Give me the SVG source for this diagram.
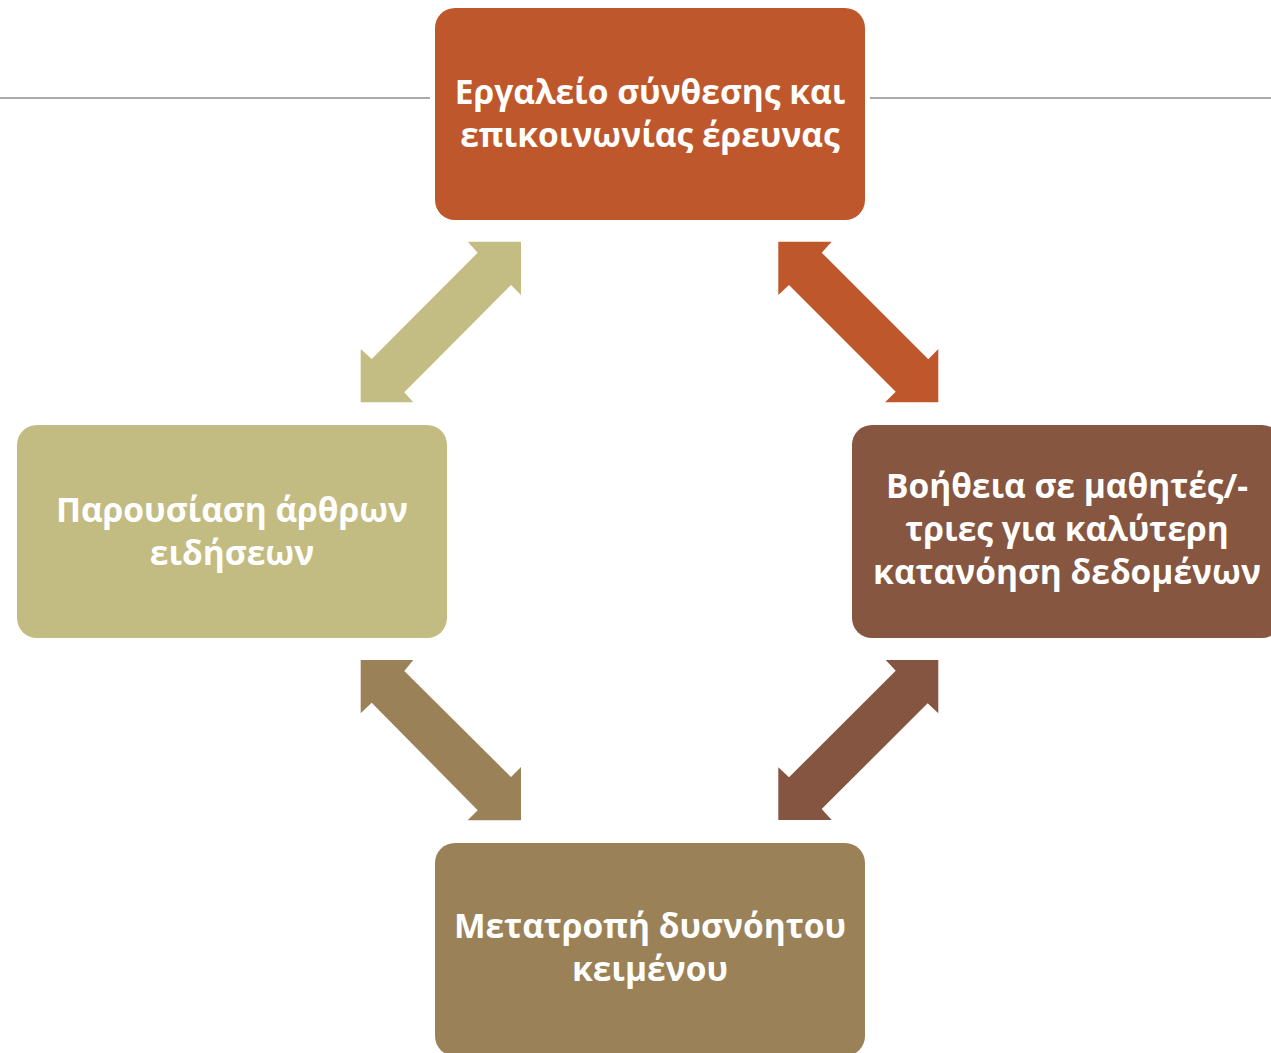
<svg xmlns="http://www.w3.org/2000/svg" width="1271" height="1053" viewBox="0 0 1271 1053">
<style>
.t{font-family:"Open Sans","Noto Sans","DejaVu Sans",sans-serif;font-weight:bold;font-size:33.5px;fill:#ffffff;text-anchor:middle}
.rule{stroke:#8c8c8c;stroke-width:1.5}
</style>
<rect width="1271" height="1053" fill="#ffffff"/>
<line class="rule" x1="0" y1="98" x2="430" y2="98"/>
<line class="rule" x1="870" y1="98" x2="1271" y2="98"/>
<g id="connectors">
<polygon fill="#C4BD83" points="467.7,241.7 521,241.7 521,295 511,285 404.3,392.3 413.3,402.3 360.7,402.3 360.7,349 371.7,359 477.7,252.7"/>
<polygon fill="#BE582C" points="778.3,241.7 831.7,241.7 821.7,252.7 928.3,359.3 938.3,349 938.3,402.3 885,402.3 895.7,391.7 789,285 778.3,295"/>
<polygon fill="#9B8157" points="360.7,660 413.3,660 404.3,671 511,777 521,767 521,820.3 467.7,820.3 477.7,810.3 371.7,702.7 360.7,713.3"/>
<polygon fill="#865541" points="885.7,660 938.3,660 938.3,713.3 927.7,703.3 821.7,809 831.7,820 778.3,820 778.3,767.3 789,777.3 895.7,670.7"/>
</g>
<g id="node-top">
<rect x="435" y="8" width="430" height="212" rx="20" fill="#BE582C"/>
<text class="t" x="650" y="104">Εργαλείο σύνθεσης και</text>
<text class="t" x="650" y="147">επικοινωνίας έρευνας</text>
</g>
<g id="node-left">
<rect x="17" y="425" width="430" height="213" rx="20" fill="#C3BC82"/>
<text class="t" x="232" y="522">Παρουσίαση άρθρων</text>
<text class="t" x="232" y="565">ειδήσεων</text>
</g>
<g id="node-right">
<rect x="852" y="425" width="430" height="213" rx="20" fill="#865640"/>
<text class="t" x="1067" y="498">Βοήθεια σε μαθητές/-</text>
<text class="t" x="1067" y="541">τριες για καλύτερη</text>
<text class="t" x="1067" y="584">κατανόηση δεδομένων</text>
</g>
<g id="node-bottom">
<rect x="435" y="843" width="430" height="213" rx="20" fill="#9B8157"/>
<text class="t" x="650" y="938">Μετατροπή δυσνόητου</text>
<text class="t" x="650" y="981">κειμένου</text>
</g>
</svg>
